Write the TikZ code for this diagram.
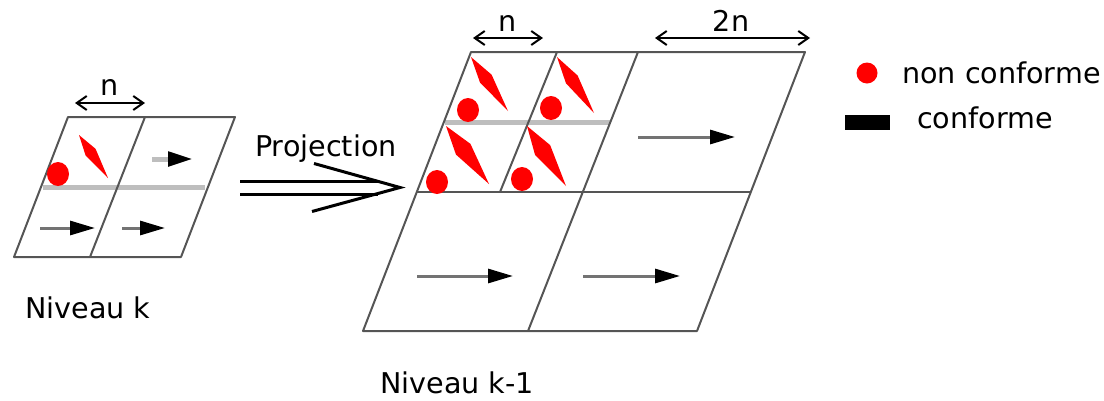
\documentclass[tikz,border=0pt]{standalone}
\usepackage{fontspec}
\setmainfont{DejaVu Sans}
\usepackage{tikz}
\usetikzlibrary{arrows.meta,positioning,calc}
\usepackage{xcolor}
\definecolor{gridgray}{RGB}{85,85,85}
\definecolor{splitgray}{RGB}{190,190,190}
\definecolor{shaftgray}{RGB}{115,115,115}

% red vector of a non conforming cell: head, tail, half width
\newcommand{\spindle}[3]{\fill[red] (#1) -- ($(#1)!0.4!(#2)!#3pt!90:(#2)$) -- (#2) -- ($(#1)!0.4!(#2)!#3pt!-90:(#2)$) -- cycle;}

\begin{document}
\begin{tikzpicture}[x=1pt, y=-1pt,
    cell/.style={draw=gridgray, line width=2pt, line join=round},
    split/.style={draw=splitgray, line width=5pt},
    flow/.style={draw=shaftgray, line width=3pt, -{Triangle[length=25pt, width=14pt, color=black]}},
    dim/.style={line width=2pt, {Straight Barb[length=10pt, width=14pt]}-{Straight Barb[length=10pt, width=14pt]}},
    proj/.style={line width=3pt},
    lbl/.style={inner sep=0, font=\fontsize{28.6}{34}\selectfont}]
  \useasboundingbox (0,0) rectangle (1104,400);

  % Niveau k
  \draw[split] (43,187) -- (205,187);
  \draw[cell] (68,117) -- (235,117) -- (181,257) -- (14,257) -- cycle;
  \draw[cell] (145,117) -- (90,257);
  \fill[red] (58,174) ellipse [x radius=11, y radius=12];
  \spindle{79,135}{108,178}{6}
  \draw[flow, draw=splitgray, line width=5pt] (152,159) -- (193,159);
  \draw[flow] (40,228) -- (95,228);
  \draw[flow] (122,228) -- (165,228);
  \coordinate (nk-l) at (75,103);
  \coordinate (nk-r) at (145,103);
  \draw[dim] (nk-l) -- (nk-r);
  \node[lbl, anchor=base] (nk) at (110,95) {n};
  \node[lbl, anchor=base west] (niv-k) at (25,318) {Niveau k};

  % Projection
  \coordinate (pj-a) at (240,187.5);
  \coordinate (pj-b) at (400,187.5);
  \draw[proj] ([yshift=6.5pt]pj-a) -- ([xshift=-21pt, yshift=6.5pt]pj-b);
  \draw[proj] ([yshift=-6.5pt]pj-a) -- ([xshift=-22pt, yshift=-6.5pt]pj-b);
  \draw[proj] ([xshift=-86pt, yshift=24pt]pj-b) -- (pj-b) -- ([xshift=-88pt, yshift=-24pt]pj-b);
  \node[lbl, anchor=base west] (proj) at (255,156) {Projection};

  % Niveau k-1
  \draw[split] (445,122) -- (610,122);
  \draw[cell] (471,52) -- (805,52) -- (697,331) -- (363,331) -- cycle;
  \draw[cell] (417,192) -- (751,192);
  \draw[cell] (638,52) -- (528,331);
  \draw[cell] (557,52) -- (500,192);
  \fill[red] (468,110) ellipse [x radius=11, y radius=12];
  \fill[red] (551,108) ellipse [x radius=11, y radius=12];
  \fill[red] (437,182) ellipse [x radius=11, y radius=12];
  \fill[red] (522,179) ellipse [x radius=11, y radius=12];
  \spindle{471,57}{508,111}{7}
  \spindle{557,57}{594,113}{7}
  \spindle{446,126}{489,184}{9}
  \spindle{527,126}{566,186}{9}
  \draw[flow] (638,137) -- (735,137);
  \draw[flow] (417,276) -- (513,276);
  \draw[flow] (583,276) -- (680,276);
  \coordinate (nb-l) at (473,38);
  \coordinate (nb-r) at (543,38);
  \draw[dim] (nb-l) -- (nb-r);
  \node[lbl, anchor=base] (nb) at (508,31) {n};
  \coordinate (tn-l) at (655,38);
  \coordinate (tn-r) at (810,38);
  \draw[dim] (tn-l) -- (tn-r);
  \node[lbl, anchor=base] (tn) at (731,31) {2n};
  \node[lbl, anchor=base west] (niv-k1) at (380,393) {Niveau k-1};

  % Legend
  \node[circle, fill=red, minimum size=21pt, inner sep=0] (leg-nc) at (867,73) {};
  \node[lbl, anchor=base west] (txt-nc) at (902,83) {non conforme};
  \node[fill=black, minimum width=45pt, minimum height=15pt, inner sep=0] (leg-c) at (867.5,122.5) {};
  \node[lbl, anchor=base west] (txt-c) at (917,128) {conforme};
\end{tikzpicture}
\end{document}
